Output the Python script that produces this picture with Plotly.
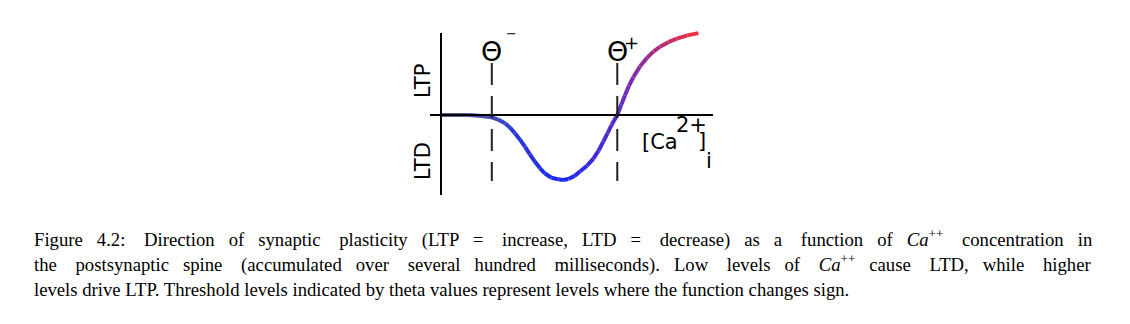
import plotly.graph_objects as go

# ---- data (arbitrary units) ----
ca_conc = [0.0, 1.07, 1.5, 2.0, 2.25, 2.52, 2.72, 2.91, 3.11, 3.31, 3.50, 3.70, 3.90,
           4.09, 4.35, 4.62, 4.80, 5.01, 5.25, 5.47, 5.75, 6.0, 6.2, 6.39, 6.56, 6.72,
           6.94, 7.10, 7.24, 7.40, 7.57, 7.83, 8.10, 8.36, 8.62, 8.95, 9.28, 9.70, 10.13]
plasticity = [0.0, 0.0, -0.01, -0.035, -0.07, -0.128, -0.195, -0.28, -0.38, -0.49, -0.605, -0.72, -0.82,
              -0.90, -0.965, -0.99, -1.0, -0.985, -0.94, -0.87, -0.78, -0.67, -0.55, -0.41, -0.28, -0.15,
              0.0, 0.16, 0.30, 0.45, 0.58, 0.745, 0.875, 0.975, 1.05, 1.12, 1.175, 1.225, 1.26]
theta_minus = 2.0
theta_plus = 6.94
axis_labels = ["LTP", "LTD"]
caption_lines = [
    "Figure 4.2: Direction of synaptic plasticity (LTP = increase, LTD = decrease) as a function of <i>Ca</i><sup>++</sup> concentration in",
    "the postsynaptic spine (accumulated over several hundred milliseconds). Low levels of <i>Ca</i><sup>++</sup> cause LTD, while higher",
    "levels drive LTP. Threshold levels indicated by theta values represent levels where the function changes sign.",
]

# ---- color gradient along the curve (style) ----
stops = [(0.0, (95, 100, 125)), (2.0, (65, 75, 180)), (3.0, (40, 55, 215)), (4.8, (25, 40, 240)),
         (6.3, (70, 40, 215)), (7.2, (105, 45, 190)), (8.6, (180, 45, 120)), (10.13, (245, 50, 60))]


def color_at(x):
    for (x0, c0), (x1, c1) in zip(stops[:-1], stops[1:]):
        if x <= x1:
            t = 0 if x1 == x0 else max(0.0, (x - x0) / (x1 - x0))
            return "rgb(%d,%d,%d)" % tuple(round(a + (b - a) * t) for a, b in zip(c0, c1))
    return "rgb(%d,%d,%d)" % stops[-1][1]


fig = go.Figure()

# pixel mapping: x=0 at px 441, 25.4 px/unit ; y=0 at py 115, 65 px/unit
W, H = 1130, 324
x0px, xs = 441, 25.4
y0px, ys = 115, 65
xr = [-x0px / xs, (W - x0px) / xs]
yr = [-(H - y0px) / ys, y0px / ys]


def px(v):
    return (v - x0px) / xs


def py(v):
    return (y0px - v) / ys


# axes lines
fig.add_shape(type="line", x0=0, x1=0, y0=py(195), y1=py(33), line=dict(color="black", width=2))
fig.add_shape(type="line", x0=px(430), x1=px(713), y0=0, y1=0, line=dict(color="black", width=2))
# threshold dashed lines
for th in (theta_minus, theta_plus):
    fig.add_shape(type="line", x0=th, x1=th, y0=py(63), y1=py(181),
                  line=dict(color="#222222", width=2, dash="22px,11px"))

# gradient curve as segments
for i in range(len(ca_conc) - 1):
    xm = (ca_conc[i] + ca_conc[i + 1]) / 2
    fig.add_trace(go.Scatter(x=ca_conc[i:i + 2], y=plasticity[i:i + 2], mode="lines",
                             line=dict(color=color_at(xm), width=4), hoverinfo="skip",
                             showlegend=False))

font_sans = "DejaVu Sans"
tf = dict(family=font_sans, size=27, color="black")
# theta labels
fig.add_annotation(x=theta_minus, y=py(51), text="Θ", showarrow=False, font=tf)
fig.add_annotation(x=px(511), y=py(33), text="−", showarrow=False,
                   font=dict(family=font_sans, size=13, color="black"))
fig.add_annotation(x=theta_plus, y=py(51), text="Θ", showarrow=False, font=tf)
fig.add_annotation(x=px(631), y=py(42), text="+", showarrow=False,
                   font=dict(family=font_sans, size=18, color="black"))
# LTP / LTD
fig.add_annotation(x=px(423), y=py(81), text=axis_labels[0], textangle=-90,
                   showarrow=False, font=dict(family=font_sans, size=21, color="black"))
fig.add_annotation(x=px(423), y=py(161), text=axis_labels[1], textangle=-90,
                   showarrow=False, font=dict(family=font_sans, size=21, color="black"))
# x label  [Ca 2+ ] i
lf = dict(family=font_sans, size=21, color="black")
fig.add_annotation(x=px(640), y=py(142), text="[Ca", showarrow=False, xanchor="left", font=lf)
fig.add_annotation(x=px(674), y=py(125), text="2+", showarrow=False, xanchor="left", font=lf)
fig.add_annotation(x=px(696), y=py(141), text="]", showarrow=False, xanchor="left", font=lf)
fig.add_annotation(x=px(704), y=py(161), text="i", showarrow=False, xanchor="left", font=lf)

# caption (lines 1-2 justified by widening the word gaps)
cap_size = 18.7
nbsp_w = 0.25 * cap_size
natural_w = [863, 882, None]     # estimated rendered widths at cap_size
target_w = 1060


def justify(line, natural):
    words = line.split(" ")
    gaps = len(words) - 1
    extra = max(0, round((target_w - natural) / nbsp_w))
    out = words[0]
    acc = 0
    for g in range(gaps):
        n = round(extra * (g + 1) / gaps) - acc
        acc += n
        out += " " + "\u00a0" * n + words[g + 1]
    return out


for k, line in enumerate(caption_lines):
    txt = justify(line, natural_w[k]) if natural_w[k] else line
    fig.add_annotation(xref="paper", yref="paper", x=32 / W, y=1 - (238 + 25.5 * k) / H,
                       text=txt, showarrow=False, xanchor="left", yanchor="middle",
                       font=dict(family="Liberation Serif", size=cap_size, color="black"))

fig.update_layout(width=W, height=H, margin=dict(l=0, r=0, t=0, b=0),
                  paper_bgcolor="white", plot_bgcolor="white",
                  xaxis=dict(range=xr, visible=False, fixedrange=True),
                  yaxis=dict(range=yr, visible=False, fixedrange=True))

fig.write_html("out.html")
